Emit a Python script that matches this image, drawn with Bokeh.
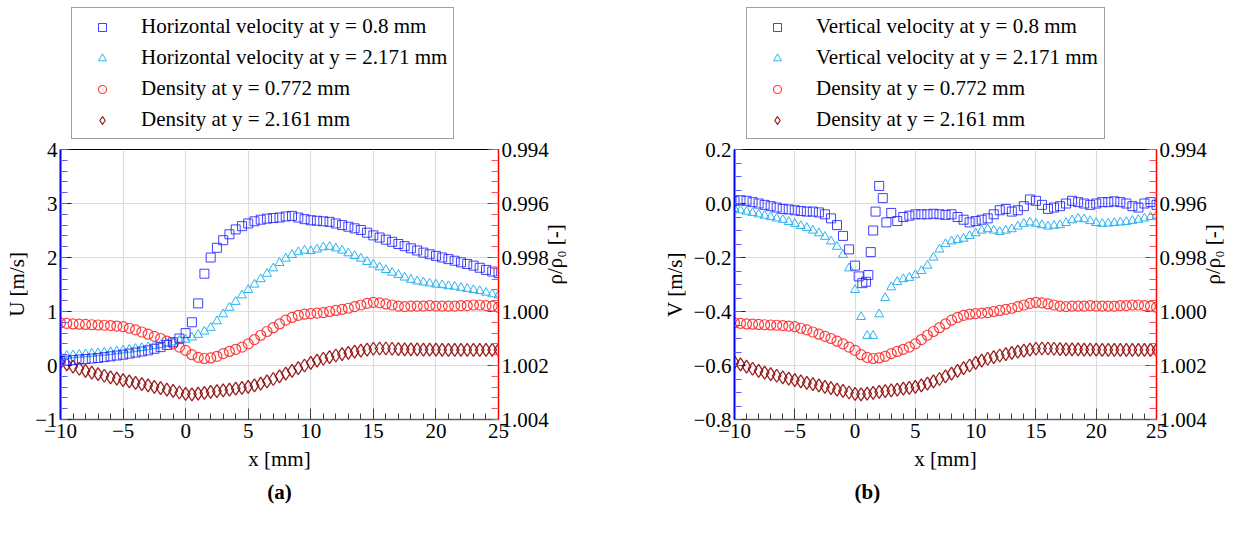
import math
from bokeh.plotting import figure
from bokeh.models import (Range1d, LinearAxis, FixedTicker, CustomJSTickFormatter,
                          Legend, LegendItem, Title)
from bokeh.layouts import row, column
from bokeh.embed import file_html
from bokeh.resources import INLINE

# ---------------- data ----------------
x_grid = [-10.0, -9.5, -9.0, -8.5, -8.0, -7.5, -7.0, -6.5, -6.0, -5.5,
          -5.0, -4.5, -4.0, -3.5, -3.0, -2.5, -2.0, -1.5, -1.0, -0.5,
          0.0, 0.5, 1.0, 1.5, 2.0, 2.5, 3.0, 3.5, 4.0, 4.5,
          5.0, 5.5, 6.0, 6.5, 7.0, 7.5, 8.0, 8.5, 9.0, 9.5,
          10.0, 10.5, 11.0, 11.5, 12.0, 12.5, 13.0, 13.5, 14.0, 14.5,
          15.0, 15.5, 16.0, 16.5, 17.0, 17.5, 18.0, 18.5, 19.0, 19.5,
          20.0, 20.5, 21.0, 21.5, 22.0, 22.5, 23.0, 23.5, 24.0, 24.5,
          25.0]

# (a) horizontal velocity U [m/s]
u_y08 = [0.08, 0.09, 0.10, 0.11, 0.12, 0.13, 0.14, 0.155, 0.17, 0.185,
         0.20, 0.22, 0.24, 0.26, 0.28, 0.31, 0.34, 0.38, 0.43, 0.50,
         0.60, 0.80, 1.15, 1.70, 2.00, 2.18, 2.32, 2.43, 2.52, 2.58,
         2.63, 2.67, 2.70, 2.72, 2.73, 2.74, 2.76, 2.77, 2.74, 2.71,
         2.69, 2.68, 2.67, 2.66, 2.63, 2.60, 2.57, 2.54, 2.51, 2.46,
         2.41, 2.37, 2.33, 2.29, 2.25, 2.21, 2.17, 2.13, 2.09, 2.06,
         2.03, 2.00, 1.97, 1.94, 1.91, 1.88, 1.85, 1.81, 1.77, 1.74,
         1.71]
u_y2171 = [0.17, 0.18, 0.19, 0.20, 0.21, 0.22, 0.23, 0.24, 0.25, 0.265,
           0.28, 0.295, 0.31, 0.325, 0.34, 0.36, 0.38, 0.405, 0.43, 0.455,
           0.48, 0.52, 0.57, 0.63, 0.70, 0.82, 0.95, 1.07, 1.18, 1.30,
           1.40, 1.50, 1.60, 1.70, 1.80, 1.90, 1.98, 2.05, 2.10, 2.13,
           2.12, 2.15, 2.19, 2.20, 2.17, 2.13, 2.08, 2.03, 1.98, 1.92,
           1.87, 1.82, 1.77, 1.72, 1.68, 1.63, 1.59, 1.56, 1.54, 1.52,
           1.50, 1.49, 1.47, 1.46, 1.44, 1.42, 1.40, 1.38, 1.35, 1.32,
           1.30]

# (b) vertical velocity V [m/s]
x_v08 = [-10.0, -9.5, -9.0, -8.5, -8.0, -7.5, -7.0, -6.5, -6.0, -5.5,
         -5.0, -4.5, -4.0, -3.5, -3.0, -2.5, -2.0, -1.5, -1.0, -0.5,
         0.0, 0.3, 0.6, 0.9, 1.1, 1.3, 1.5, 1.7, 2.0, 2.3,
         2.6, 3.0, 3.5, 4.0, 4.5,
         5.0, 5.5, 6.0, 6.5, 7.0, 7.5, 8.0, 8.5, 9.0, 9.5,
         10.0, 10.5, 11.0, 11.5, 12.0, 12.5, 13.0, 13.5, 14.0, 14.5,
         15.0, 15.5, 16.0, 16.5, 17.0, 17.5, 18.0, 18.5, 19.0, 19.5,
         20.0, 20.5, 21.0, 21.5, 22.0, 22.5, 23.0, 23.5, 24.0, 24.5,
         25.0]
v_y08 = [0.010, 0.012, 0.010, 0.005, 0.000, -0.005, -0.010, -0.015, -0.020, -0.022,
         -0.025, -0.028, -0.030, -0.030, -0.033, -0.040, -0.055, -0.080, -0.120, -0.170,
         -0.230, -0.270, -0.295, -0.290, -0.265, -0.180, -0.100, -0.030, 0.065, 0.020,
         -0.070, -0.035, -0.065, -0.050, -0.045,
         -0.040, -0.040, -0.040, -0.038, -0.040, -0.042, -0.040, -0.050, -0.060, -0.070,
         -0.065, -0.060, -0.055, -0.040, -0.025, -0.020, -0.030, -0.025, -0.010, 0.015,
         0.010, -0.005, -0.020, -0.015, -0.010, 0.000, 0.010, 0.005, 0.000, -0.005,
         0.000, 0.005, 0.005, 0.008, 0.005, 0.000, -0.010, -0.015, 0.000, 0.005,
         -0.005]
v_y2171 = [-0.020, -0.025, -0.030, -0.035, -0.040, -0.045, -0.050, -0.055, -0.060, -0.068,
           -0.075, -0.083, -0.090, -0.100, -0.110, -0.123, -0.140, -0.160, -0.190, -0.240,
           -0.320, -0.420, -0.490, -0.490, -0.410, -0.350, -0.310, -0.290, -0.280, -0.275,
           -0.265, -0.250, -0.230, -0.200, -0.170, -0.150, -0.140, -0.135, -0.130, -0.120,
           -0.110, -0.100, -0.095, -0.100, -0.105, -0.100, -0.095, -0.085, -0.075, -0.070,
           -0.075, -0.080, -0.085, -0.082, -0.080, -0.072, -0.062, -0.056, -0.058, -0.065,
           -0.072, -0.075, -0.074, -0.072, -0.070, -0.068, -0.064, -0.060, -0.055, -0.050,
           -0.045]

# density rho/rho0 [-] (same in both panels)
rho_y0772 = [1.00042, 1.00044, 1.00046, 1.00047, 1.00048, 1.00049, 1.00050, 1.00051, 1.00052, 1.00054,
             1.00056, 1.00062, 1.00068, 1.00076, 1.00084, 1.00092, 1.00100, 1.00110, 1.00120, 1.00132,
             1.00144, 1.00160, 1.00170, 1.00174, 1.00172, 1.00166, 1.00156, 1.00148, 1.00140, 1.00132,
             1.00120, 1.00104, 1.00088, 1.00074, 1.00060, 1.00046, 1.00032, 1.00022, 1.00014, 1.00010,
             1.00008, 1.00006, 1.00004, 1.00000, 0.99996, 0.99992, 0.99988, 0.99982, 0.99976, 0.99970,
             0.99966, 0.99968, 0.99972, 0.99976, 0.99980, 0.99982, 0.99980, 0.99980, 0.99980, 0.99978,
             0.99980, 0.99980, 0.99980, 0.99980, 0.99978, 0.99978, 0.99976, 0.99976, 0.99978, 0.99980,
             0.99984]
rho_y2161 = [1.00188, 1.00196, 1.00204, 1.00212, 1.00220, 1.00226, 1.00232, 1.00238, 1.00244, 1.00249,
             1.00254, 1.00259, 1.00264, 1.00269, 1.00274, 1.00279, 1.00284, 1.00289, 1.00294, 1.00300,
             1.00305, 1.00307, 1.00304, 1.00301, 1.00298, 1.00295, 1.00292, 1.00289, 1.00286, 1.00283,
             1.00279, 1.00274, 1.00267, 1.00259, 1.00250, 1.00240, 1.00230, 1.00220, 1.00210, 1.00200,
             1.00190, 1.00182, 1.00175, 1.00169, 1.00163, 1.00158, 1.00153, 1.00149, 1.00145, 1.00141,
             1.00138, 1.00137, 1.00137, 1.00138, 1.00139, 1.00140, 1.00140, 1.00140, 1.00141, 1.00141,
             1.00141, 1.00142, 1.00142, 1.00142, 1.00142, 1.00142, 1.00142, 1.00142, 1.00142, 1.00142,
             1.00142]

x_ticks = [-10, -5, 0, 5, 10, 15, 20, 25]
u_ticks = [-1, 0, 1, 2, 3, 4]
v_ticks = [-0.8, -0.6, -0.4, -0.2, 0.0, 0.2]
rho_ticks = [0.994, 0.996, 0.998, 1.000, 1.002, 1.004]

labels_a = ["Horizontal velocity at y = 0.8 mm", "Horizontal velocity at y = 2.171 mm",
            "Density at y = 0.772 mm", "Density at y = 2.161 mm"]
labels_b = ["Vertical velocity at y = 0.8 mm", "Vertical velocity at y = 2.171 mm",
            "Density at y = 0.772 mm", "Density at y = 2.161 mm"]

# ---------------- style ----------------
FONT = "Liberation Serif"
FS = "21px"
C_SQ = "#2020ff"
C_TRI = "#2ab4f0"
C_CIR = "#ff2a2a"
C_DIA = "#8f0a0a"

STYLE = {
    "sq": dict(marker="square", size=9, fill_color=None, line_color=C_SQ, line_width=1, line_alpha=0.85),
    "tri": dict(marker="triangle", size=9, fill_color=None, line_color=C_TRI, line_width=1),
    "cir": dict(marker="circle", size=10, fill_color=None, line_color=C_CIR, line_width=1.2, line_alpha=0.9),
    "dia": dict(marker="diamond", size=13, fill_color=None, line_color=C_DIA, line_width=1.3, line_alpha=0.9),
}
LEG_SIZE = {"sq": 7, "tri": 7, "cir": 7, "dia": 9}


def fmt(digits):
    return CustomJSTickFormatter(code="""
        const a = Math.abs(tick) < 1e-9 ? 0 : Math.abs(tick);
        const s = a.toFixed(%d);
        return (tick < -1e-9 ? '\\u2212' : '') + s;
    """ % digits)


def minor_list(lo, hi, step):
    n = int(round((hi - lo) / step))
    return [round(lo + i * step, 6) for i in range(n + 1)]


def legend_fig(width, labels, left):
    lf = figure(width=width, height=139, min_border=0,
                x_range=Range1d(0, 1), y_range=Range1d(0, 1),
                x_axis_location=None, y_axis_location=None,
                output_backend="svg", toolbar_location=None,
                background_fill_color="white", border_fill_color="white")
    lf.outline_line_color = None
    lf.grid.visible = False
    rs = []
    for k in ("sq", "tri", "cir", "dia"):
        st = dict(STYLE[k])
        st["size"] = LEG_SIZE[k]
        # swatch source placed outside the visible range: only the legend glyph shows
        rs.append(lf.scatter([5.0], [5.0], **st))
    leg = Legend(items=[LegendItem(label=lab, renderers=[r]) for lab, r in zip(labels, rs)],
                 location=(left, 0), orientation="vertical")
    leg.label_text_font = FONT
    leg.label_text_font_size = FS
    leg.label_text_color = "black"
    leg.glyph_width = 48
    leg.glyph_height = 20
    leg.label_standoff = 15
    leg.label_height = 24
    leg.spacing = 6
    leg.padding = 6
    leg.margin = 0
    leg.border_line_color = "#404040"
    leg.border_line_width = 1.5
    leg.background_fill_color = "white"
    leg.background_fill_alpha = 1
    lf.add_layout(leg)
    return lf


def panel(ylo, yhi, yticks, yminor_step, ydigits, ylabel, v1x, v1, v2,
          caption, width, min_left, min_right, cap_align, cap_offset):
    p = figure(width=width, height=401,
               min_border_left=min_left, min_border_right=min_right,
               min_border_top=10, min_border_bottom=121,
               x_range=Range1d(-10, 25), y_range=Range1d(ylo, yhi),
               output_backend="svg", toolbar_location=None,
               background_fill_color="white", border_fill_color="white")
    p.outline_line_color = "black"
    p.outline_line_width = 1

    # x axis
    xt = FixedTicker(ticks=x_ticks, minor_ticks=minor_list(-10, 25, 1))
    xa = p.xaxis[0]
    xa.ticker = xt
    xa.formatter = fmt(0)
    xa.axis_label = "x [mm]"
    xa.axis_line_color = "#606060"
    xa.axis_line_width = 1.5
    xa.major_tick_line_color = "#404040"
    xa.minor_tick_line_color = "#404040"
    xa.major_tick_in = 11
    xa.major_tick_out = 0
    xa.minor_tick_in = 6
    xa.minor_tick_out = 0
    xa.major_label_standoff = 4
    xa.axis_label_standoff = 6

    # left axis
    yt = FixedTicker(ticks=yticks, minor_ticks=minor_list(ylo, yhi, yminor_step))
    ya = p.yaxis[0]
    ya.ticker = yt
    ya.formatter = fmt(ydigits)
    ya.axis_label = ylabel
    ya.axis_line_color = "#0000ff"
    ya.axis_line_width = 2
    ya.major_tick_line_color = "#0000ff"
    ya.minor_tick_line_color = "#5a5aff"
    ya.major_tick_in = 11
    ya.major_tick_out = 0
    ya.minor_tick_in = 7
    ya.minor_tick_out = 0
    ya.major_label_standoff = 3
    ya.axis_label_standoff = 3

    # right axis (density)
    p.extra_y_ranges = {"rho": Range1d(start=1.004, end=0.994)}
    ra = LinearAxis(y_range_name="rho",
                    ticker=FixedTicker(ticks=rho_ticks, minor_ticks=minor_list(0.994, 1.004, 0.0004)),
                    formatter=fmt(3), axis_label="ρ/ρ₀ [-]")
    ra.axis_line_color = "#ff0000"
    ra.axis_line_width = 1.5
    ra.major_tick_line_color = "#ff0000"
    ra.minor_tick_line_color = "#ff5050"
    ra.major_tick_in = 11
    ra.major_tick_out = 0
    ra.minor_tick_in = 7
    ra.minor_tick_out = 0
    ra.major_label_standoff = 3
    ra.axis_label_standoff = 3
    try:
        ra.axis_label_orientation = math.pi / 2
    except Exception:
        pass
    p.add_layout(ra, "right")

    for ax in (xa, ya, ra):
        ax.major_label_text_font = FONT
        ax.major_label_text_font_size = FS
        ax.major_label_text_color = "black"
        ax.axis_label_text_font = FONT
        ax.axis_label_text_font_size = FS
        ax.axis_label_text_font_style = "normal"
        ax.axis_label_text_color = "black"

    p.xgrid.ticker = xt
    p.ygrid.ticker = yt
    for g in (p.xgrid, p.ygrid):
        g.grid_line_color = "#dcdcdc"
        g.grid_line_width = 1.2

    p.scatter(x_grid, rho_y2161, y_range_name="rho", **STYLE["dia"])
    p.scatter(x_grid, rho_y0772, y_range_name="rho", **STYLE["cir"])
    p.scatter(x_grid, v2, **STYLE["tri"])
    p.scatter(v1x, v1, **STYLE["sq"])

    cap = Title(text=caption, align=cap_align, offset=cap_offset,
                text_font=FONT, text_font_size=FS, text_font_style="bold",
                text_color="black", standoff=8)
    p.add_layout(cap, "below")
    return p


la = legend_fig(581, labels_a, 11)
pa = panel(-1, 4, u_ticks, 0.2, 0, "U [m/s]", x_grid, u_y08, u_y2171,
           "(a)", 581, 60, 80, "center", 0)
lb = legend_fig(658, labels_b, 12)
pb = panel(-0.8, 0.2, v_ticks, 0.05, 1, "V [m/s]", x_v08, v_y08, v_y2171,
           "(b)", 658, 153, 80, "left", 120)

layout = row(column(la, pa), column(lb, pb))
open("out.html", "w").write(file_html(layout, INLINE))
